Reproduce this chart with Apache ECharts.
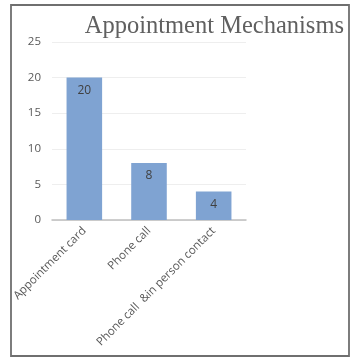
<!DOCTYPE html>
<html><head><meta charset="utf-8">
<script src="https://cdn.jsdelivr.net/npm/echarts@6/dist/echarts.min.js"></script>
<style>html,body{margin:0;padding:0;background:#fff}#c{width:357px;height:360px}</style>
</head><body><div id="c"></div>
<script>
const categories = ['Appointment card', 'Phone call', 'Phone call  &in person contact'];
const values = [20, 8, 4];
const yTicks = [0, 5, 10, 15, 20, 25];
const titleText = 'Appointment Mechanisms';

const chart = echarts.init(document.getElementById('c'));
chart.setOption({
  animation: false,
  title: {
    text: titleText, right: 8, top: 9,
    textStyle: {fontFamily: 'Liberation Serif', fontSize: 24.5, fontWeight: 'normal', color: '#606060'}
  },
  graphic: [{
    type: 'rect', shape: {x: 11, y: 5, width: 338, height: 351},
    style: {fill: 'none', stroke: '#6f6f6f', lineWidth: 1.8}
  }],
  grid: {left: 52, right: 111, top: 42, bottom: 140},
  xAxis: {
    type: 'category', data: categories,
    axisTick: {show: false},
    axisLine: {lineStyle: {color: '#bfbfbf', width: 1.5}},
    axisLabel: {rotate: 45, interval: 0, fontFamily: 'Open Sans', fontSize: 11.5, color: '#595959', margin: 9}
  },
  yAxis: {
    type: 'value', min: yTicks[0], max: yTicks[yTicks.length - 1], interval: 5,
    axisLine: {show: false}, axisTick: {show: false},
    splitLine: {lineStyle: {color: '#eeeeee'}},
    axisLabel: {fontFamily: 'Open Sans', fontSize: 11.5, color: '#595959', margin: 11}
  },
  series: [{
    type: 'bar', data: values, barWidth: '55%',
    itemStyle: {color: '#7fa3d2'},
    label: {show: true, position: 'insideTop', distance: 7, fontFamily: 'Open Sans', fontSize: 12, color: '#404040'}
  }]
});
</script></body></html>
